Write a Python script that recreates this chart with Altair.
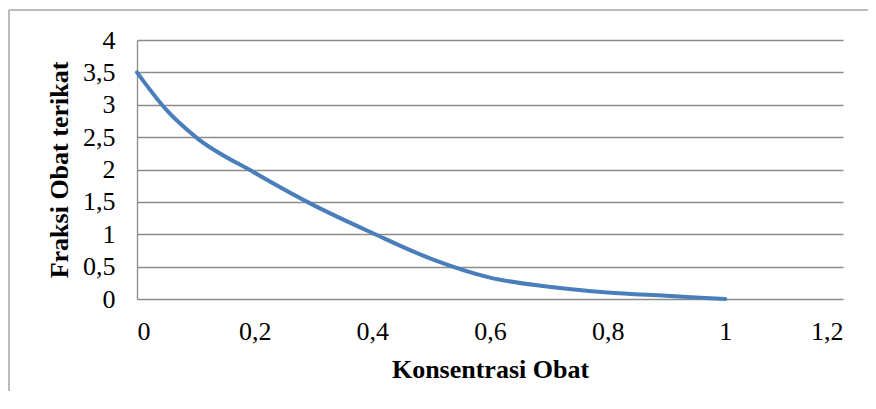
import altair as alt
import pandas as pd

# data
konsentrasi = [0, 0.05, 0.1, 0.2, 0.3, 0.4, 0.5, 0.6, 0.7, 0.8, 0.9, 1.0]
fraksi = [3.5, 2.92, 2.5, 1.95, 1.45, 1.02, 0.62, 0.33, 0.19, 0.10, 0.05, 0.0]
x_ticks = [0, 0.2, 0.4, 0.6, 0.8, 1.0, 1.2]
y_ticks = [0, 0.5, 1, 1.5, 2, 2.5, 3, 3.5, 4]

df = pd.DataFrame({"Konsentrasi Obat": konsentrasi, "Fraksi Obat terikat": fraksi})
one = pd.DataFrame({"k": [0]})

FONT = "Liberation Serif"
label_expr = "replace(format(datum.value, '.1~f'), '.', ',')"

W, H = 706, 259
PAD = {"left": 129, "top": 32, "right": 25, "bottom": 92}

line = alt.Chart(df).mark_line(
    color="#4a7ebb", strokeWidth=4, interpolate="monotone", strokeCap="round"
).encode(
    x=alt.X("Konsentrasi Obat:Q",
            scale=alt.Scale(domain=[0, 1.2], nice=False),
            axis=alt.Axis(values=x_ticks, labelExpr=label_expr, grid=False,
                          domain=False, ticks=False, labelPadding=19,
                          labelFont=FONT, labelFontSize=26,
                          titleFont=FONT, titleFontSize=26, titleFontWeight="bold",
                          titlePadding=12)),
    y=alt.Y("Fraksi Obat terikat:Q",
            scale=alt.Scale(domain=[0, 4], nice=False),
            axis=alt.Axis(values=y_ticks, labelExpr=label_expr, grid=True,
                          domain=True, ticks=False, labelPadding=22,
                          labelFont=FONT, labelFontSize=26,
                          titleFont=FONT, titleFontSize=26, titleFontWeight="bold",
                          titlePadding=10)),
)

top_border = alt.Chart(one).mark_rule(color="#a6a6a6", strokeWidth=1.5).encode(
    x=alt.value(-128), x2=alt.value(W + PAD["right"]), y=alt.value(-30)
)
left_border = alt.Chart(one).mark_rule(color="#a6a6a6", strokeWidth=1.5).encode(
    x=alt.value(-128), y=alt.value(-30), y2=alt.value(H + PAD["bottom"])
)

chart = alt.layer(top_border, left_border, line).properties(
    width=W, height=H, autosize=alt.AutoSizeParams(type="none"), padding=PAD,
    background="white",
).configure_view(stroke=None).configure_axis(
    labelColor="#000000", titleColor="#000000",
    gridColor="#8c8c8c", gridWidth=1.3, domainColor="#8c8c8c", domainWidth=1.3,
    labelBound=False, labelOverlap=False,
)

chart.save("out.html", embed_options={"renderer": "svg", "actions": False})
